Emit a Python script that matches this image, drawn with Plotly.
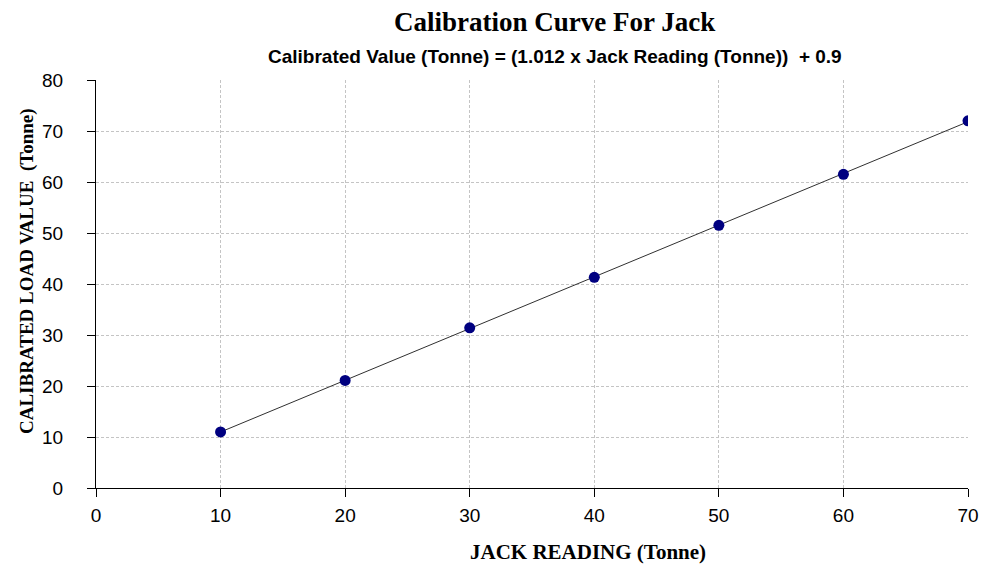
import numpy as np
import plotly.graph_objects as go

jack_reading = [10, 20, 30, 40, 50, 60, 70]
calibrated_value = [11.0, 21.1, 31.4, 41.3, 51.5, 61.5, 72.0]
x_ticks = [0, 10, 20, 30, 40, 50, 60, 70]
y_ticks = [0, 10, 20, 30, 40, 50, 60, 70, 80]

title_text = "Calibration Curve For Jack"
subtitle_text = "Calibrated Value (Tonne) = (1.012 x Jack Reading (Tonne))  + 0.9"
x_title = "JACK READING (Tonne)"
y_title = "CALIBRATED LOAD VALUE  (Tonne)"

# linear trendline fitted to the read data
coef = np.polyfit(jack_reading, calibrated_value, 1)
fit_x = [min(jack_reading), max(jack_reading)]
fit_y = list(np.polyval(coef, fit_x))

W, H = 982, 568
L, R, T, B = 96, W - 968, 80, H - 488
PW, PH = W - L - R, H - T - B


def px(x):
    return (x - L) / PW


def py(y):
    return (H - B - y) / PH


fig = go.Figure()
fig.add_trace(go.Scatter(x=fit_x, y=fit_y, mode="lines",
                         line=dict(color="#303030", width=1), hoverinfo="skip",
                         showlegend=False))
fig.add_trace(go.Scatter(x=jack_reading, y=calibrated_value, mode="markers",
                         marker=dict(color="#000080", size=11,
                                     line=dict(width=0)),
                         showlegend=False))

axis_common = dict(showline=True, linecolor="black", linewidth=1,
                   ticks="outside", ticklen=8, tickcolor="black",
                   showgrid=True, gridcolor="#c4c4c4", griddash="3px,2px",
                   gridwidth=1, zeroline=False, automargin=False,
                   tickfont=dict(family="Liberation Sans, Arial", size=19,
                                 color="black"))

fig.update_xaxes(range=[0, 70], tickvals=x_ticks, ticklabelstandoff=2,
                 **axis_common)
fig.update_yaxes(range=[0, 80], tickvals=y_ticks, ticklabelstandoff=20,
                 **axis_common)

fig.update_layout(
    width=W, height=H,
    margin=dict(l=L, r=R, t=T, b=B),
    paper_bgcolor="white", plot_bgcolor="white",
    annotations=[
        dict(text="<b>" + title_text + "</b>", x=px(554), y=py(22),
             xref="paper", yref="paper", showarrow=False,
             xanchor="center", yanchor="middle",
             font=dict(family="Liberation Serif, Times New Roman", size=27,
                       color="black")),
        dict(text="<b>" + subtitle_text + "</b>", x=px(555), y=py(57),
             xref="paper", yref="paper", showarrow=False,
             xanchor="center", yanchor="middle",
             font=dict(family="Liberation Sans, Arial", size=19,
                       color="black")),
        dict(text="<b>" + x_title + "</b>", x=px(588), y=py(552),
             xref="paper", yref="paper", showarrow=False,
             xanchor="center", yanchor="middle",
             font=dict(family="Liberation Serif, Times New Roman", size=21,
                       color="black")),
        dict(text="<b>" + y_title + "</b>", x=px(27), y=py(271),
             xref="paper", yref="paper", showarrow=False, textangle=-90,
             xanchor="center", yanchor="middle",
             font=dict(family="Liberation Serif, Times New Roman", size=19,
                       color="black")),
    ],
)

fig.write_html("out.html",
               config={"responsive": False, "displayModeBar": False},
               post_script="document.body.style.margin='0';"
                           "document.body.style.overflow='hidden';")
